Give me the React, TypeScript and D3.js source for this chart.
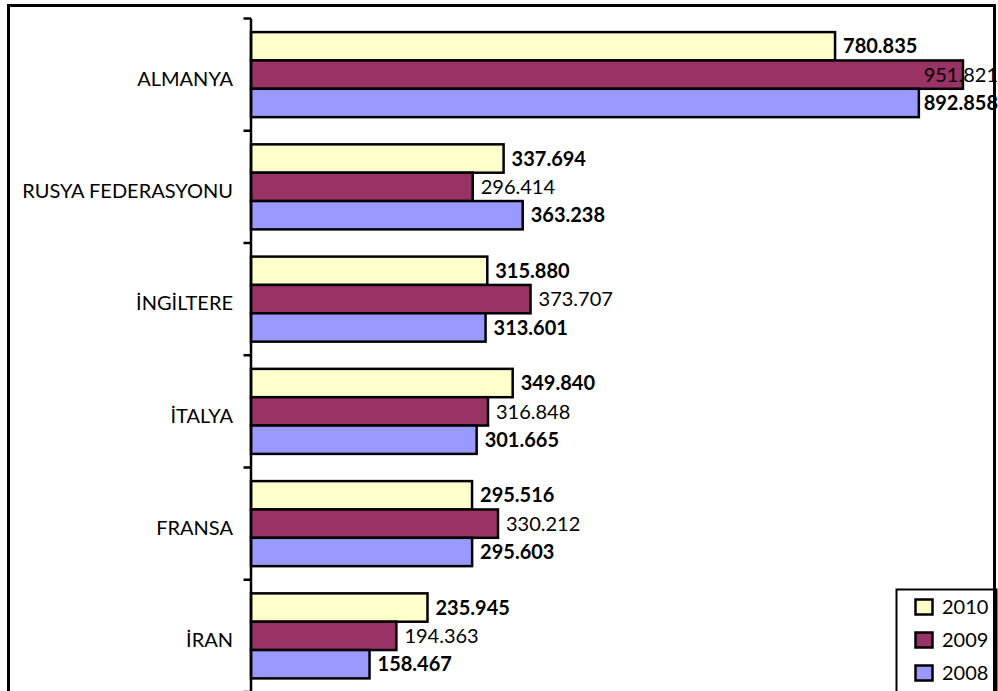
import React from "react";
import * as d3 from "d3";

const categories = ["ALMANYA", "RUSYA FEDERASYONU", "İNGİLTERE", "İTALYA", "FRANSA", "İRAN"];
const seriesNames = ["2010", "2009", "2008"];
const values2010 = [780.835, 337.694, 315.88, 349.84, 295.516, 235.945];
const values2009 = [951.821, 296.414, 373.707, 316.848, 330.212, 194.363];
const values2008 = [892.858, 363.238, 313.601, 301.665, 295.603, 158.467];
const seriesColors = ["#FFFFCC", "#993366", "#9999FF"];
const seriesBold = [true, false, true];

const W = 998;
const H = 691;
const FONT = "Lato, 'Open Sans', sans-serif";
const FS = 20;

const fmt = (v: number) => v.toFixed(3);

export default function App() {
  const seriesValues = [values2010, values2009, values2008];
  const x = d3.scaleLinear().domain([0, 1000]).range([251, 999]);
  const y = d3.scaleBand<string>().domain(categories).range([18.5, 692]).padding(0);
  const step = y.step();
  const sub = d3.scaleBand<string>().domain(seriesNames).range([0, step]).paddingInner(0).paddingOuter(0.48);
  const rightLimit = 998;

  return (
    <svg width={W} height={H} style={{ position: "absolute", left: 0, top: 0, background: "#fff" }} fontFamily={FONT}>
      <rect x={0} y={0} width={W} height={H} fill="#fff" />
      {/* bars */}
      {categories.map((c, ci) =>
        seriesNames.map((s, si) => {
          const v = seriesValues[si][ci];
          const y0 = (y(c) as number) + (sub(s) as number);
          return (
            <rect
              key={c + s}
              x={x(0)}
              y={y0}
              width={x(v) - x(0)}
              height={sub.bandwidth()}
              fill={seriesColors[si]}
              stroke="#000"
              strokeWidth={2.5}
            />
          );
        })
      )}
      {/* value labels */}
      {categories.map((c, ci) =>
        seriesNames.map((s, si) => {
          const v = seriesValues[si][ci];
          const yc = (y(c) as number) + (sub(s) as number) + sub.bandwidth() / 2;
          const est = 76;
          let lx = x(v) + 8;
          let anchor: "start" | "end" = "start";
          if (lx + est > rightLimit) {
            lx = rightLimit;
            anchor = "end";
          }
          return (
            <text
              key={"l" + c + s}
              x={lx}
              y={yc}
              dy="0.36em"
              textAnchor={anchor}
              fontSize={FS}
              fontWeight={seriesBold[si] ? "bold" : "normal"}
              fill="#000"
            >
              {fmt(v)}
            </text>
          );
        })
      )}
      {/* axis */}
      <line x1={251} x2={251} y1={18.5} y2={700} stroke="#000" strokeWidth={2.5} />
      {d3.range(categories.length + 1).map((i) => {
        const ty = 18.5 + i * step;
        return <line key={"t" + i} x1={243.5} x2={251} y1={ty} y2={ty} stroke="#000" strokeWidth={2.5} />;
      })}
      {categories.map((c) => (
        <text
          key={"c" + c}
          x={233}
          y={(y(c) as number) + step / 2 + 4}
          dy="0.36em"
          textAnchor="end"
          fontSize={FS}
          fill="#000"
        >
          {c}
        </text>
      ))}
      {/* legend */}
      <rect x={896.5} y={589.5} width={100} height={130} fill="#fff" stroke="#000" strokeWidth={2} />
      {seriesNames.map((s, si) => {
        const cy = 607 + si * 33;
        return (
          <g key={"lg" + s}>
            <rect x={915.5} y={cy - 7.5} width={17} height={15} fill={seriesColors[si]} stroke="#000" strokeWidth={2.5} />
            <text x={942} y={cy} dy="0.36em" fontSize={FS} fill="#000">
              {s}
            </text>
          </g>
        );
      })}
      {/* outer frame */}
      <rect x={8.5} y={5.5} width={986} height={720} fill="none" stroke="#000" strokeWidth={3} />
    </svg>
  );
}
